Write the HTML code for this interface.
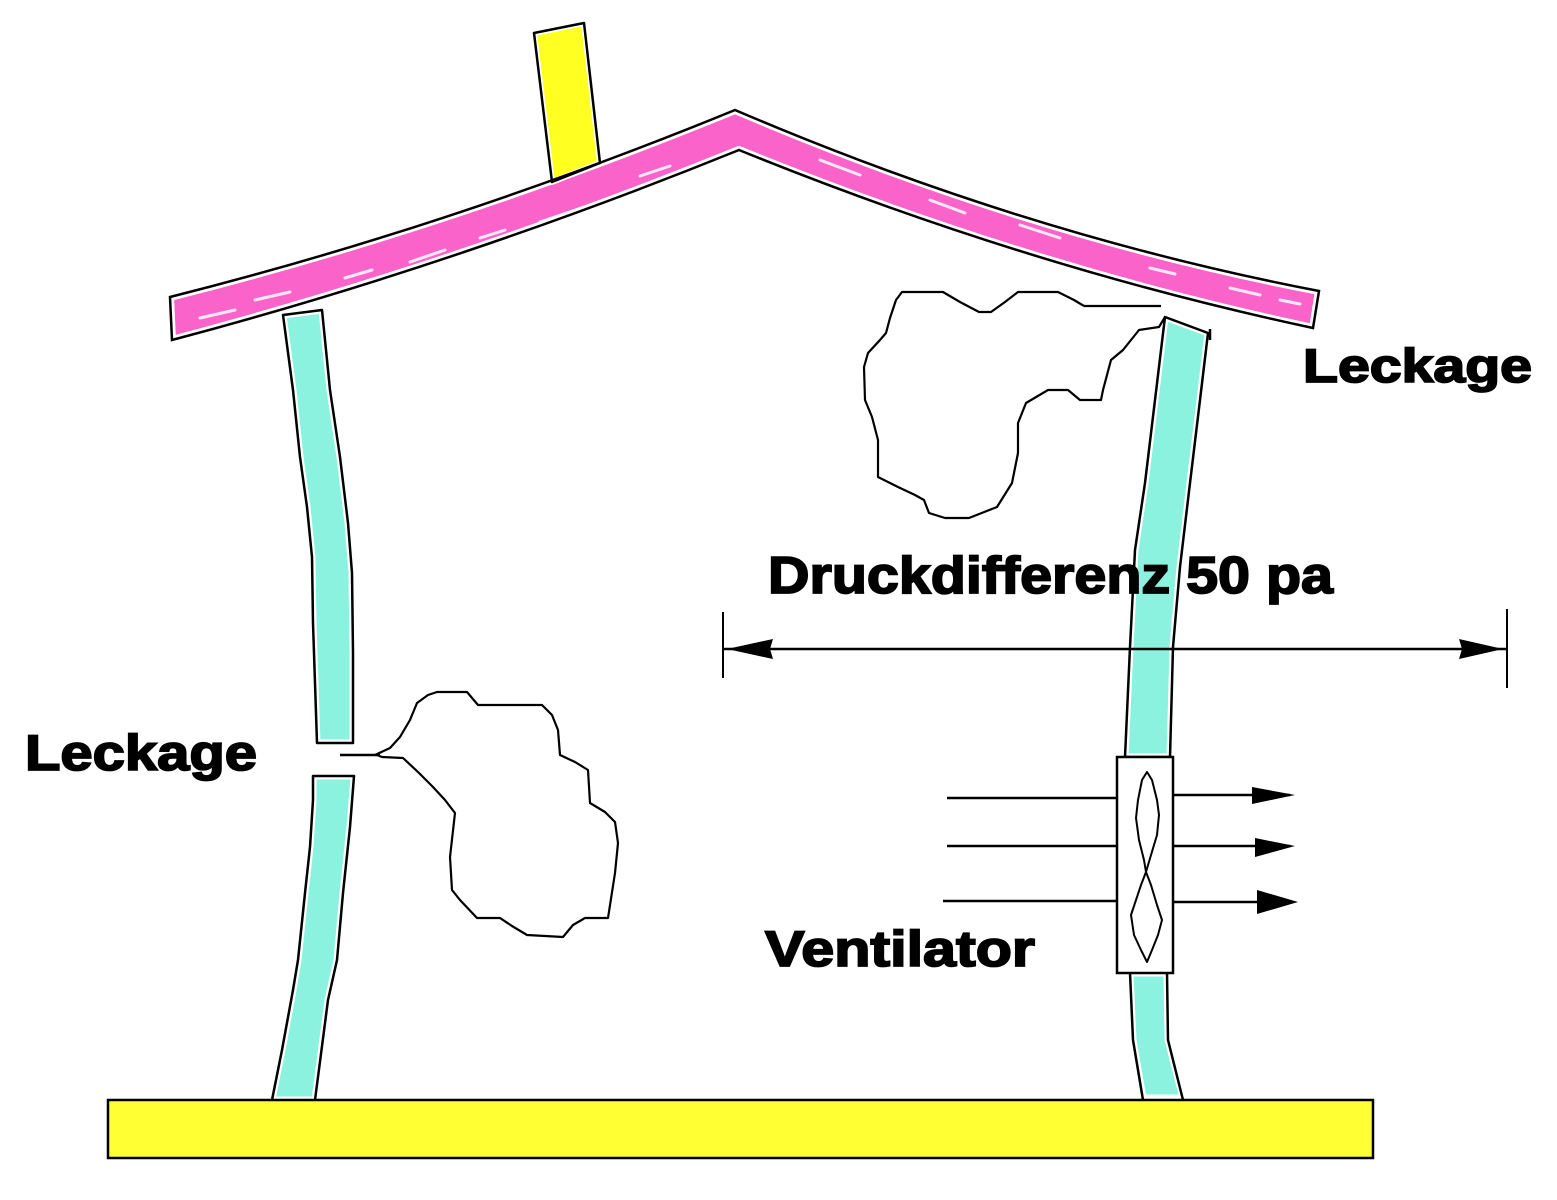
<!DOCTYPE html>
<html>
<head>
<meta charset="utf-8">
<style>
  html,body{margin:0;padding:0;background:#fff;}
  svg{display:block;}
  text{font-family:"Liberation Sans",Arial,sans-serif;font-weight:bold;fill:#000;stroke:#000;stroke-width:1.8;}
</style>
</head>
<body>
<svg width="1557" height="1200" viewBox="0 0 1557 1200" xmlns="http://www.w3.org/2000/svg">
  <rect x="0" y="0" width="1557" height="1200" fill="#fff"/>

  <!-- Roof fill -->
  <path d="M170,297 Q452,226 735,110 Q1027,235 1319,291 L1313,328 Q1027,267 739,150 Q455,265 172,340 Z"
        fill="#fa64ca" stroke="#fff" stroke-width="8" stroke-linejoin="round"/>
  <!-- roof texture streaks -->
  <g stroke="#fff" stroke-width="3" stroke-linecap="round" opacity="0.85" fill="none">
    <path d="M200,318 L235,310"/>
    <path d="M255,300 L290,292"/>
    <path d="M345,278 L372,270"/>
    <path d="M410,262 L445,250"/>
    <path d="M480,238 L505,230"/>
    <path d="M540,222 L590,205"/>
    <path d="M640,176 L670,166"/>
    <path d="M820,160 L860,175"/>
    <path d="M930,200 L965,213"/>
    <path d="M1020,225 L1060,238"/>
    <path d="M1150,268 L1175,274"/>
    <path d="M1230,288 L1260,295"/>
    <path d="M1280,300 L1300,304"/>
  </g>

  <!-- Chimney -->
  <polygon points="534,33 584,23 600,163 552,182" fill="#ffff22" stroke="#fff" stroke-width="6" stroke-linejoin="round"/>
  <polygon points="534,33 584,23 600,163 552,182" fill="none" stroke="#000" stroke-width="2.5" stroke-linejoin="round"/>

  <!-- Roof outline -->
  <path d="M170,297 Q452,226 735,110 Q1027,235 1319,291 L1313,328 Q1027,267 739,150 Q455,265 172,340 Z"
        fill="none" stroke="#000" stroke-width="2.5" stroke-linejoin="miter"/>

  <!-- Left wall upper -->
  <polygon points="283,315 322,310 330,390 340,457 348,523 352,573 353,653 353,743 317,743 313,623 312,557 307,507 300,457 293,390"
           fill="#8cf2e0" stroke="#fff" stroke-width="7" stroke-linejoin="round"/>
  <polygon points="283,315 322,310 330,390 340,457 348,523 352,573 353,653 353,743 317,743 313,623 312,557 307,507 300,457 293,390"
           fill="none" stroke="#000" stroke-width="2.5" stroke-linejoin="round"/>

  <!-- Left wall lower -->
  <polygon points="313,776 354,776 350,827 343,893 337,960 328,1000 315,1100 272,1100 282,1050 293,990 298,960 305,893 310,847 313,800"
           fill="#8cf2e0" stroke="#fff" stroke-width="7" stroke-linejoin="round"/>
  <polyline points="272,1100 282,1050 293,990 298,960 305,893 310,847 313,800 313,776 354,776 350,827 343,893 337,960 328,1000 315,1100"
           fill="none" stroke="#000" stroke-width="2.5" stroke-linejoin="round"/>

  <!-- Right wall upper -->
  <polygon points="1165,317 1208,333 1200,400 1190,483 1180,567 1173,647 1170,757 1125,757 1130,647 1135,550 1145,483 1155,400"
           fill="#8cf2e0" stroke="#fff" stroke-width="7" stroke-linejoin="round"/>
  <polygon points="1165,317 1208,333 1200,400 1190,483 1180,567 1173,647 1170,757 1125,757 1130,647 1135,550 1145,483 1155,400"
           fill="none" stroke="#000" stroke-width="2.5" stroke-linejoin="round"/>
  <line x1="1210" y1="329" x2="1210" y2="340" stroke="#000" stroke-width="2.5"/>

  <!-- Right wall lower -->
  <polygon points="1130,973 1167,973 1168,1040 1183,1098 1143,1098 1133,1040"
           fill="#8cf2e0" stroke="#fff" stroke-width="7" stroke-linejoin="round"/>
  <polyline points="1143,1100 1133,1040 1130,973" fill="none" stroke="#000" stroke-width="2.5"/>
  <polyline points="1183,1100 1168,1040 1167,973" fill="none" stroke="#000" stroke-width="2.5"/>

  <!-- Foundation -->
  <rect x="108" y="1100" width="1265" height="58" fill="#ffff33" stroke="#000" stroke-width="2.5"/>

  <!-- Left leak line + cloud -->
  <line x1="340" y1="755" x2="380" y2="755" stroke="#000" stroke-width="2.5"/>
  <polyline fill="none" stroke="#000" stroke-width="2.2" stroke-linejoin="round"
    points="375,755 390,748 400,737 410,720 417,703 428,695 437,692 467,692 478,705 542,705 552,715 558,730 560,755 575,762 588,770 590,803 605,812 615,822 618,843 615,873 608,918 585,918 573,925 563,937 527,935 512,926 500,918 477,918 460,900 452,890 450,857 455,813 445,800 433,787 418,772 403,758 382,757 377,755"/>

  <!-- Right cloud -->
  <line x1="1084" y1="306" x2="1161" y2="306" stroke="#000" stroke-width="2.2"/>
  <polyline fill="none" stroke="#000" stroke-width="2.2" stroke-linejoin="round"
    points="1084,306 1074,300 1058,292 1018,292 1005,302 991,312 979,312 960,302 943,292 902,292 896,300 890,318 886,333 880,340 868,353 864,367 865,400 872,417 878,440 878,477 898,487 915,495 924,500 929,513 945,518 969,518 997,507 1012,483 1018,453 1018,423 1026,403 1048,390 1068,390 1080,400 1101,400 1103,390 1111,360 1123,350 1139,330 1159,327 1165,317"/>

  <!-- Dimension line -->
  <line x1="723" y1="612" x2="723" y2="678" stroke="#000" stroke-width="2"/>
  <line x1="1507" y1="609" x2="1507" y2="688" stroke="#000" stroke-width="2"/>
  <line x1="723" y1="649" x2="1507" y2="649" stroke="#000" stroke-width="2.5"/>
  <polygon points="727,649 773,639 770,649 773,659" fill="#000"/>
  <polygon points="1503,649 1459,639 1462,649 1459,659" fill="#000"/>

  <!-- Ventilator box -->
  <rect x="1117" y="757" width="56" height="216" fill="#fff" stroke="#000" stroke-width="2.5"/>
  <path fill="none" stroke="#000" stroke-width="2" stroke-linejoin="round"
    d="M1147,772 L1152,780 L1157,800 L1159,815 L1157,835 L1151,855 L1146,872 L1151,885 L1157,905 L1162,920 L1158,935 L1152,950 L1147,962 L1141,950 L1134,935 L1131,915 L1135,903 L1141,885 L1146,872 L1144,860 L1139,840 L1136,818 L1138,800 L1142,780 Z"/>

  <!-- Flow lines -->
  <g stroke="#000" stroke-width="2.5">
    <line x1="947" y1="798" x2="1117" y2="798"/>
    <line x1="947" y1="846" x2="1117" y2="846"/>
    <line x1="943" y1="901" x2="1117" y2="901"/>
    <line x1="1173" y1="795" x2="1290" y2="795"/>
    <line x1="1173" y1="846" x2="1290" y2="846"/>
    <line x1="1173" y1="902" x2="1292" y2="902"/>
  </g>
  <polygon points="1252,787 1295,795 1252,804" fill="#000"/>
  <polygon points="1255,838 1295,846 1255,857" fill="#000"/>
  <polygon points="1257,890 1298,902 1257,914" fill="#000"/>

  <!-- Labels -->
  <text x="1303" y="382" font-size="47" textLength="229" lengthAdjust="spacingAndGlyphs">Leckage</text>
  <text x="25" y="770" font-size="50" textLength="232" lengthAdjust="spacingAndGlyphs">Leckage</text>
  <text x="768" y="593" font-size="52" textLength="565" lengthAdjust="spacingAndGlyphs">Druckdifferenz 50 pa</text>
  <text x="765" y="966" font-size="50" textLength="270" lengthAdjust="spacingAndGlyphs">Ventilator</text>
</svg>
</body>
</html>
